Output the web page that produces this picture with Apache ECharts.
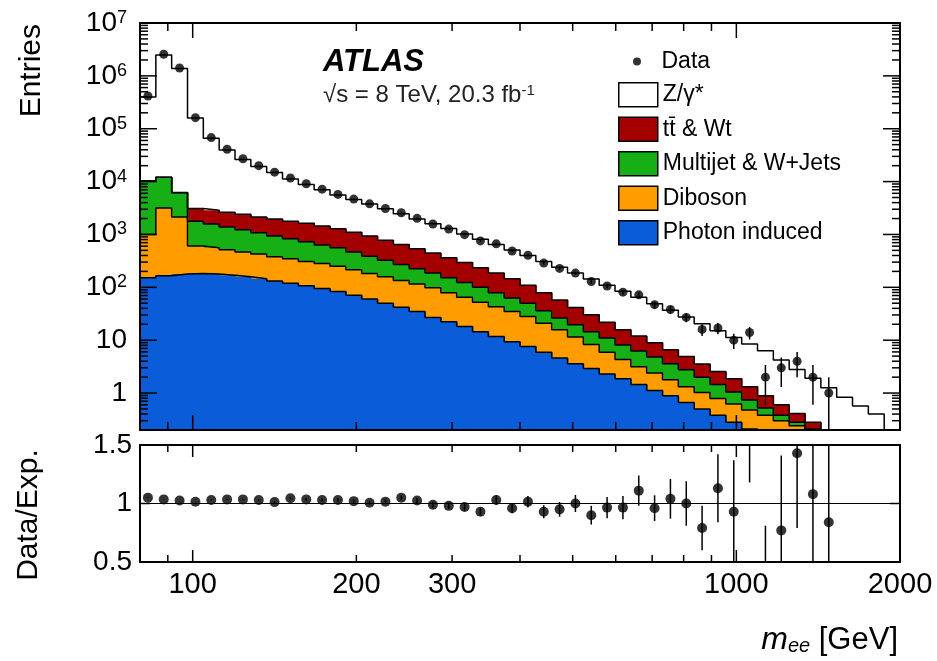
<!DOCTYPE html>
<html>
<head>
<meta charset="utf-8">
<script src="https://cdn.jsdelivr.net/npm/echarts@6/dist/echarts.min.js"></script>
<style>html,body{margin:0;padding:0;background:#fff}#chart{width:937px;height:661px}</style>
</head>
<body>
<div id="chart"></div>
<script>
// ---- data ----
const binEdges = [80.00, 85.55, 91.48, 97.83, 104.61, 111.87, 119.63, 127.93, 136.80, 146.29, 156.44, 167.29, 178.89, 191.30, 204.57, 218.76, 233.93, 250.16, 267.51, 286.06, 305.90, 327.12, 349.81, 374.07, 400.02, 427.77, 457.44, 489.16, 523.09, 559.37, 598.17, 639.66, 684.03, 731.47, 782.21, 836.46, 894.48, 956.52, 1022.87, 1093.81, 1169.68, 1250.81, 1337.57, 1430.34, 1529.55, 1635.64, 1749.09, 1870.41, 2000];

const zgamma = [386800, 2468000, 1373800, 156900, 63100, 36970, 23700, 17260, 12950, 9420, 7180, 5545, 4272, 3474, 2827, 2279, 1809, 1433, 1153, 927, 725, 579, 460, 362, 288, 230, 182.5, 144.3, 112.8, 88.1, 68.2, 52.6, 40.1, 30.1, 22.6, 16.85, 12.5, 9.34, 7.18, 5.41, 3.6, 2.39, 1.62, 1.08, 0.69, 0.46, 0.31, 0.03];
const ttbar = [40, 50, 60, 1312, 1299, 1250, 1169, 1066, 1017, 946, 898, 814, 726, 628, 544, 452, 377, 313, 261, 212, 172, 134, 107, 82, 60, 43, 31.2, 22.2, 15.7, 10.9, 7.7, 5.7, 4.1, 3.0, 2.15, 1.55, 1.12, 0.81, 0.58, 0.37, 0.22, 0.13, 0.07, 0.02, 0.01, 0.01, 0.01, 0.01];
const multijet = [9230, 8858, 4032, 1175, 1023, 867, 762, 645, 553, 485, 415, 349, 311, 254, 207, 166, 134, 109, 88, 72, 58, 48, 36, 28, 22, 15, 10.5, 8.0, 6.2, 5.1, 3.8, 3.1, 2.4, 1.8, 1.43, 0.98, 0.66, 0.43, 0.26, 0.14, 0.08, 0.04, 0.02, 0.01, 0.01, 0.01, 0.01, 0.01];
const diboson = [849, 2996, 1960, 421, 384, 343, 310, 282, 248, 227, 202, 187, 168, 143, 122, 108, 93, 80, 71, 56.6, 46.8, 37.5, 31.3, 25.7, 20.4, 15.1, 11.2, 7.9, 5.4, 3.6, 2.44, 1.71, 1.28, 0.89, 0.66, 0.52, 0.41, 0.34, 0.27, 0.23, 0.19, 0.16, 0.13, 0.11, 0.09, 0.07, 0.055, 0.04];
const photon = [151, 166, 178, 182, 178, 170, 158, 145, 132, 120, 107, 95, 83, 71, 60, 50, 42, 35, 27, 22.4, 18.2, 14.5, 11.7, 9.3, 7.6, 5.9, 4.6, 3.6, 2.9, 2.3, 1.86, 1.45, 1.12, 0.89, 0.66, 0.50, 0.38, 0.28, 0.21, 0.15, 0.11, 0.08, 0.06, 0.04, 0.03, 0.02, 0.015, 0.01];

const dataCounts = [417000, 2570000, 1410000, 162000, 68000, 41000, 27000, 20000, 15100, 11700, 9100, 7200, 5730, 4660, 3790, 3100, 2580, 2020, 1580, 1265, 990, 756, 665, 487, 404, 287, 228, 186, 129, 106, 81, 72, 47, 38, 27, 16, 17, 10, 14, 2, 3, 4, 2, 1, null, null, null, null];
const dataErr = [650, 1600, 1190, 400, 260, 200, 165, 140, 123, 108, 95, 85, 76, 68, 62, 56, 51, 45, 40, 36, 31, 27, 26, 22, 20, 17, 15, 14, 11, 10, 9, 8.5, 6.9, 6.2, 5.2, 4, 4.1, 3.2, 3.7, 1.4, 1.7, 2, 1.4, 1, null, null, null, null];

const ratio = [1.05, 1.035, 1.025, 1.015, 1.03, 1.035, 1.035, 1.03, 1.012, 1.045, 1.035, 1.03, 1.03, 1.02, 1.007, 1.016, 1.05, 1.025, 0.99, 0.98, 0.97, 0.93, 1.03, 0.96, 1.015, 0.93, 0.95, 1.0, 0.9, 0.965, 0.965, 1.11, 0.96, 1.04, 1.0, 0.79, 1.13, 0.93, 1.6, 0.32, 0.77, 1.43, 1.08, 0.84, null, null, null, null];
const ratioErr = [0.002, 0.001, 0.001, 0.003, 0.004, 0.005, 0.006, 0.007, 0.008, 0.01, 0.011, 0.012, 0.014, 0.015, 0.016, 0.018, 0.02, 0.022, 0.025, 0.028, 0.031, 0.034, 0.04, 0.044, 0.05, 0.055, 0.063, 0.073, 0.08, 0.09, 0.1, 0.13, 0.11, 0.17, 0.19, 0.19, 0.29, 0.44, 0.42, 0.49, 0.64, 0.64, 0.8, 0.84, null, null, null, null];

const xLabelValues = [100, 200, 300, 1000, 2000];
const yLabelValues = [1, 10, 100, 1000, 10000, 100000, 1000000, 10000000];
const xMajorTicks = [100, 1000];
const xMinorTicks = [90, 200, 300, 400, 500, 600, 700, 800, 900];
const yMajorTicks = [1, 10, 100, 1000, 10000, 100000, 1000000];
const ratioTicks = [1];

// ---- derived tables ----
const X_MIN = 80, X_MAX = 2000, Y_MIN = 0.2, Y_MAX = 1e7, R_MIN = 0.5, R_MAX = 1.5;
const FONT = '"Liberation Sans", Arial, Helvetica, sans-serif';
const yMinorTicks = [];
for (let d = -1; d < 7; d++) for (let k = 2; k <= 9; k++) { const v = +(k * Math.pow(10, d)).toPrecision(3); if (v > Y_MIN && v < Y_MAX) yMinorTicks.push(v); }

const nBins = binEdges.length - 1;
const centers = binEdges.slice(0, nBins).map((e, i) => Math.sqrt(e * binEdges[i + 1]));
const cumPhoton = photon.slice();
const cumDiboson = cumPhoton.map((v, i) => v + diboson[i]);
const cumMultijet = cumDiboson.map((v, i) => v + multijet[i]);
const cumTtbar = cumMultijet.map((v, i) => v + ttbar[i]);
const cumTotal = cumTtbar.map((v, i) => v + zgamma[i]);

const stackDefs = [
  { name: 'Z/γ*', cum: cumTotal, color: '#ffffff' },
  { name: 't\u0074\u0304 & Wt', cum: cumTtbar, color: '#a40000' },
  { name: 'Multijet & W+Jets', cum: cumMultijet, color: '#16b016' },
  { name: 'Diboson', cum: cumDiboson, color: '#ff9c00' },
  { name: 'Photon induced', cum: cumPhoton, color: '#0a5cd8' }
];

// ---- axes ----
function frameLine() { return { show: true, onZero: false, lineStyle: { color: '#000', width: 2 } }; }
function xAx(grid, pos, labels) {
  return {
    type: 'log', logBase: 10, gridIndex: grid, position: pos, min: X_MIN, max: X_MAX, z: 10,
    splitLine: { show: false }, minorSplitLine: { show: false },
    axisLine: frameLine(), axisTick: { show: false }, minorTick: { show: false },
    axisLabel: labels ? {
      show: true, customValues: labels, margin: 8, color: '#000', fontFamily: FONT, fontSize: 29,
      formatter: function (v) { return String(Math.round(v)); }
    } : { show: false }
  };
}
function yLogAx(pos, labels) {
  return {
    type: 'log', logBase: 10, gridIndex: 0, position: pos, min: Y_MIN, max: Y_MAX, z: 10,
    splitLine: { show: false }, minorSplitLine: { show: false },
    axisLine: frameLine(), axisTick: { show: false }, minorTick: { show: false },
    axisLabel: labels ? {
      show: true, customValues: labels, margin: 13, color: '#000', fontFamily: FONT, fontSize: 28,
      formatter: function (v) {
        const p = Math.round(Math.log10(v));
        if (p === 0) return '{b|1}';
        if (p === 1) return '{b|10}';
        return '{b|10}{s|' + p + '}';
      },
      rich: {
        b: { fontSize: 28, fontFamily: FONT, color: '#000' },
        s: { fontSize: 18, fontFamily: FONT, color: '#000', verticalAlign: 'top' }
      }
    } : { show: false }
  };
}
function yRatioAx(pos, labels) {
  return {
    type: 'value', gridIndex: 1, position: pos, min: R_MIN, max: R_MAX, interval: 0.5, z: 10,
    splitLine: { show: false },
    axisLine: frameLine(), axisTick: { show: false },
    axisLabel: labels ? { show: true, margin: 8, color: '#000', fontFamily: FONT, fontSize: 28 } : { show: false }
  };
}
const xAxes = [xAx(0, 'bottom', null), xAx(0, 'top', null), xAx(1, 'bottom', xLabelValues), xAx(1, 'top', null)];
const yAxes = [yLogAx('left', yLabelValues), yLogAx('right', null), yRatioAx('left', true), yRatioAx('right', false)];

// ---- series ----
const series = [];
stackDefs.forEach(function (s) {
  series.push({
    type: 'custom', name: s.name, xAxisIndex: 0, yAxisIndex: 0, clip: true, z: 2,
    data: s.cum.map((v, i) => [binEdges[i], binEdges[i + 1], v]),
    encode: { x: [0, 1], y: 2 },
    itemStyle: { color: s.color },
    renderItem: function (params, api) {
      const top = api.value(2);
      if (!(top > Y_MIN)) return null;
      const p0 = api.coord([api.value(0), Math.min(top, Y_MAX)]);
      const p1 = api.coord([api.value(1), Y_MIN]);
      return { type: 'rect', shape: { x: p0[0], y: p0[1], width: p1[0] - p0[0] + 0.8, height: p1[1] - p0[1] }, style: { fill: s.color } };
    }
  });
});
stackDefs.forEach(function (s, k) {
  series.push({
    type: 'line', name: 'outline' + k, xAxisIndex: 0, yAxisIndex: 0, step: 'end', symbol: 'none',
    silent: true, clip: true, z: 3,
    data: binEdges.map((e, i) => [e, s.cum[Math.min(i, nBins - 1)]]),
    lineStyle: { color: '#000', width: 1.5 }
  });
});
series.push({
  type: 'custom', name: 'dataErr', xAxisIndex: 0, yAxisIndex: 0, clip: true, z: 4, silent: true,
  data: centers.map((c, i) => [c, dataCounts[i], dataErr[i]]).filter(d => d[1] != null),
  encode: { x: 0, y: 1 },
  renderItem: function (params, api) {
    const x = api.value(0), v = api.value(1), e = api.value(2);
    const lo = Math.max(v - e, Y_MIN), hi = Math.min(v + e, Y_MAX);
    if (hi <= lo) return null;
    const a = api.coord([x, lo]), b = api.coord([x, hi]);
    return { type: 'line', shape: { x1: a[0], y1: a[1], x2: b[0], y2: b[1] }, style: { stroke: '#000', lineWidth: 1.5 } };
  }
});
series.push({
  type: 'scatter', name: 'Data', xAxisIndex: 0, yAxisIndex: 0, z: 5, symbol: 'circle', symbolSize: 9,
  itemStyle: { color: '#000' },
  data: centers.map((c, i) => [c, dataCounts[i]]).filter(d => d[1] != null)
});
series.push({
  type: 'custom', name: 'ratioErr', xAxisIndex: 2, yAxisIndex: 2, clip: true, z: 4, silent: true,
  data: centers.map((c, i) => [c, ratio[i], ratioErr[i]]).filter(d => d[1] != null),
  encode: { x: 0, y: 1 },
  renderItem: function (params, api) {
    const x = api.value(0), v = api.value(1), e = api.value(2);
    const lo = Math.max(v - e, R_MIN), hi = Math.min(v + e, R_MAX);
    if (hi <= lo) return null;
    const a = api.coord([x, lo]), b = api.coord([x, hi]);
    return { type: 'line', shape: { x1: a[0], y1: a[1], x2: b[0], y2: b[1] }, style: { stroke: '#000', lineWidth: 1.5 } };
  }
});
series.push({
  type: 'scatter', name: 'ratio', xAxisIndex: 2, yAxisIndex: 2, z: 5, symbol: 'circle', symbolSize: 10, clip: true,
  itemStyle: { color: '#000' },
  data: centers.map((c, i) => [c, ratio[i]]).filter(d => d[1] != null),
  markLine: {
    silent: true, symbol: 'none', label: { show: false },
    lineStyle: { color: '#000', width: 1, type: 'solid' },
    data: [{ yAxis: 1 }]
  }
});

// ---- tick marks on all four frame sides, placed through the axes' scales ----
function tickSeries(name, xi, yi, yLo, yHi, items) {
  return {
    type: 'custom', name: name, xAxisIndex: xi, yAxisIndex: yi, clip: false, silent: true, z: 6,
    data: items, encode: { x: 0, y: 1 },
    renderItem: function (params, api) {
      const a = api.value(0), b = api.value(1), len = api.value(2), kind = api.value(3);
      const st = { stroke: '#000', lineWidth: 1.5 };
      if (kind === 0) {
        const p = api.coord([a, yLo]), q = api.coord([a, yHi]);
        return { type: 'group', children: [
          { type: 'line', shape: { x1: p[0], y1: p[1], x2: p[0], y2: p[1] - len }, style: st },
          { type: 'line', shape: { x1: q[0], y1: q[1], x2: q[0], y2: q[1] + len }, style: st }
        ] };
      }
      const p = api.coord([X_MIN, b]), q = api.coord([X_MAX, b]);
      return { type: 'group', children: [
        { type: 'line', shape: { x1: p[0], y1: p[1], x2: p[0] + len, y2: p[1] }, style: st },
        { type: 'line', shape: { x1: q[0], y1: q[1], x2: q[0] - len, y2: q[1] }, style: st }
      ] };
    }
  };
}
series.push(tickSeries('ticksMain', 0, 0, Y_MIN, Y_MAX, [].concat(
  xMajorTicks.map(v => [v, Y_MIN, 15, 0]),
  xMinorTicks.map(v => [v, Y_MIN, 8, 0]),
  yMajorTicks.map(v => [X_MIN, v, 17, 1]),
  yMinorTicks.map(v => [X_MIN, v, 8, 1])
)));
series.push(tickSeries('ticksRatio', 2, 2, R_MIN, R_MAX, [].concat(
  xMajorTicks.map(v => [v, R_MIN, 12, 0]),
  xMinorTicks.map(v => [v, R_MIN, 7, 0]),
  ratioTicks.map(v => [X_MIN, v, 10, 1])
)));

const legendText = { fontSize: 23, color: '#000', fontFamily: FONT };
const option = {
  animation: false,
  backgroundColor: '#ffffff',
  textStyle: { fontFamily: FONT },
  grid: [
    { left: 140, top: 23, width: 760, height: 407 },
    { left: 140, top: 445, width: 760, height: 117 }
  ],
  xAxis: xAxes,
  yAxis: yAxes,
  legend: [
    {
      orient: 'vertical', left: 633, top: 50, padding: 0, itemWidth: 39, itemHeight: 8,
      selectedMode: false, textStyle: legendText,
      data: [{ name: 'Data', icon: 'circle', itemStyle: { color: '#000' } }]
    },
    {
      orient: 'vertical', left: 618, top: 82, padding: 0, itemWidth: 39, itemHeight: 24, itemGap: 9,
      selectedMode: false, textStyle: legendText,
      data: stackDefs.map(s => ({ name: s.name, icon: 'rect', itemStyle: { color: s.color, borderColor: '#000', borderWidth: 1.5 } }))
    }
  ],
  graphic: [
    { type: 'text', x: 323, y: 62, style: { text: 'ATLAS', font: 'italic bold 31px ' + FONT, fill: '#000', verticalAlign: 'middle' } },
    { type: 'text', x: 323, y: 95, style: {
        text: '√s = 8 TeV, 20.3 fb{s|-1}', fontSize: 24, fontFamily: FONT, fill: '#222', verticalAlign: 'middle',
        rich: { s: { fontSize: 15, fontFamily: FONT, fill: '#222', verticalAlign: 'top' } } } },
    { type: 'text', x: 32, y: 24, rotation: Math.PI / 2, style: { text: 'Entries', fontSize: 30, fontFamily: FONT, fill: '#000', align: 'right', verticalAlign: 'middle' } },
    { type: 'text', x: 29, y: 515, rotation: Math.PI / 2, style: { text: 'Data/Exp.', fontSize: 30, fontFamily: FONT, fill: '#000', align: 'center', verticalAlign: 'middle' } },
    { type: 'text', x: 898, y: 640, style: {
        text: '{m|m}{e|ee}{g| [GeV]}', fontFamily: FONT, fill: '#000', align: 'right', verticalAlign: 'middle',
        rich: {
          m: { fontSize: 32, fontStyle: 'italic', fontFamily: FONT, fill: '#000' },
          e: { fontSize: 20, fontStyle: 'italic', fontFamily: FONT, fill: '#000', verticalAlign: 'bottom', lineHeight: 20, padding: [16, 0, 0, 0] },
          g: { fontSize: 31, fontFamily: FONT, fill: '#000' }
        } } }
  ],
  series: series
};

const chart = echarts.init(document.getElementById('chart'), null, { renderer: 'canvas', devicePixelRatio: 1 });
chart.setOption(option);
</script>
</body>
</html>
